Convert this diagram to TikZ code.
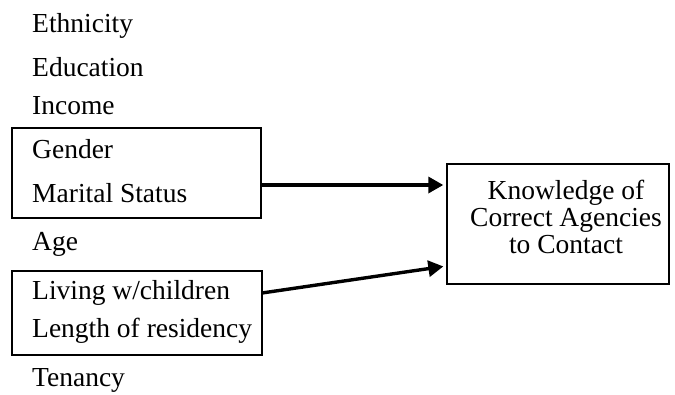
\documentclass[tikz,border=0pt]{standalone}
\usepackage{fontspec}
\setmainfont{Liberation Serif}
\usetikzlibrary{arrows.meta}
\begin{document}
\begin{tikzpicture}[x=1pt,y=-1pt,
  lbl/.style={anchor=base west,inner sep=0pt,font=\fontsize{27.5}{27.5}\selectfont},
  frame/.style={draw,line width=1.4pt},
  link/.style={line width=3.4pt,shorten >=3pt,-{Triangle[length=15pt,width=16pt]}}]
\useasboundingbox (0,0) rectangle (675,394);
% factor list
\node[lbl] (eth) at (32,32) {Ethnicity};
\node[lbl] (edu) at (32,76) {Education};
\node[lbl] (inc) at (32,114) {Income};
\node[lbl] (gen) at (32,158) {Gender};
\node[lbl] (mar) at (32,202) {Marital Status};
\node[lbl] (age) at (32,250) {Age};
\node[lbl] (liv) at (32,299) {Living w/children};
\node[lbl] (len) at (32,337) {Length of residency};
\node[lbl] (ten) at (32,386) {Tenancy};
% grouping boxes
\draw[frame] (12,128) rectangle (261,218);
\coordinate (b1) at (261,185);
\draw[frame] (12,271) rectangle (262,355);
\coordinate (b2) at (262,293);
% outcome
\node[frame,minimum width=222pt,minimum height=120pt,inner sep=0pt] (out) at (558,224) {};
\node[align=center,inner sep=0pt,font=\fontsize{27.5}{27}\selectfont] (outtxt) at (566,217)
  {Knowledge of\\Correct Agencies\\to Contact};
\draw[link] (b1) -- (out.west |- 0,185);
\draw[link] (b2) -- (out.west |- 0,266);
\end{tikzpicture}
\end{document}
